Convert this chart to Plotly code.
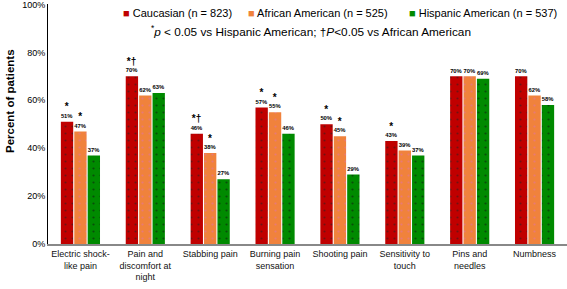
import plotly.graph_objects as go

categories = ["Electric shock-<br>like pain", "Pain and<br>discomfort at<br>night", "Stabbing pain",
              "Burning pain<br>sensation", "Shooting pain", "Sensitivity to<br>touch",
              "Pins and<br>needles", "Numbness"]
caucasian = [51, 70, 46, 57, 50, 43, 70, 70]
african = [47, 62, 38, 55, 45, 39, 70, 62]
hispanic = [37, 63, 27, 46, 29, 37, 69, 58]
cauc_sig = ["*", "*†", "*†", "*", "*", "*", "", ""]
afr_sig = ["*", "", "*", "*", "*", "", "", ""]
hisp_sig = ["", "", "", "", "", "", "", ""]
series_names = ["Caucasian (n = 823)", "African American (n = 525)", "Hispanic American (n = 537)"]
y_ticks = [0, 20, 40, 60, 80, 100]
y_tick_labels = ["0%", "20%", "40%", "60%", "80%", "100%"]

colors = ["#C00000", "#F0823C", "#008A00"]
dotcolors = ["#222222", "#E070B0", "#111111"]

L, R, T, B = 48, 0, 4, 45
W, H = 567, 289
PW, PH = W - L - R, H - T - B


def px(x):
    return (x - L) / PW


def py(y):
    return (H - B - y) / PH


def label(v, s):
    t = f"<b>{v}%</b>"
    if s:
        t = f"<span style='font-size:12px'><b>{s}</b></span><br>" + t
    return t


fig = go.Figure()
for name, vals, sig, c, dc in zip(series_names, [caucasian, african, hispanic],
                                  [cauc_sig, afr_sig, hisp_sig], colors, dotcolors):
    fig.add_trace(go.Bar(
        x=categories, y=vals, name=name, showlegend=False,
        marker=dict(color=c, line=dict(width=0),
                    pattern=dict(shape=".", fgcolor=dc, size=7, solidity=0.08)),
        text=[label(v, s) for v, s in zip(vals, sig)],
        textposition="outside", cliponaxis=False,
        textfont=dict(size=7, color="black", family="Liberation Sans"),
    ))

# legend drawn as text entries
legend_x = [121, 246, 407]
for name, c, lx in zip(series_names, colors, legend_x):
    fig.add_annotation(
        text=f"<span style='color:{c};font-size:11px'>■</span> {name}",
        xref="paper", yref="paper", x=px(lx), y=py(13), xanchor="left", yanchor="middle",
        showarrow=False, font=dict(size=11, color="black", family="Liberation Sans"),
    )

fig.add_annotation(
    text="<sup>*</sup><i>p</i> < 0.05 vs Hispanic American; †<i>P</i><0.05 vs African American",
    xref="paper", yref="paper", x=px(149), y=py(31), xanchor="left", yanchor="middle",
    showarrow=False, font=dict(size=11.8, color="black", family="Liberation Sans"),
)

# y-axis title
fig.add_annotation(
    text="<b>Percent of patients</b>", textangle=-90,
    xref="paper", yref="paper", x=px(10), y=py(101), xanchor="center", yanchor="middle",
    showarrow=False, font=dict(size=11.5, color="black", family="Liberation Sans"),
)

fig.update_layout(
    width=W, height=H,
    margin=dict(l=L, r=R, t=T, b=B),
    plot_bgcolor="white", paper_bgcolor="white",
    barmode="group", bargap=0.38, bargroupgap=0.08,
    font=dict(family="Liberation Sans", color="black"),
    showlegend=False,
    yaxis=dict(range=[0, 100.2], tickvals=y_ticks, ticktext=y_tick_labels, showgrid=False,
               showline=True, linecolor="black", linewidth=1, ticks="",
               tickfont=dict(size=9), zeroline=False, automargin=False,
               ticklabeloverflow="allow"),
    xaxis=dict(showline=True, linecolor="#888888", linewidth=2, ticks="",
               tickfont=dict(size=9, color="#111111"), tickangle=0, automargin=False),
)

fig.write_html("out.html", config={"displayModeBar": False},
               post_script="document.body.style.margin='0';document.body.style.padding='0';")
